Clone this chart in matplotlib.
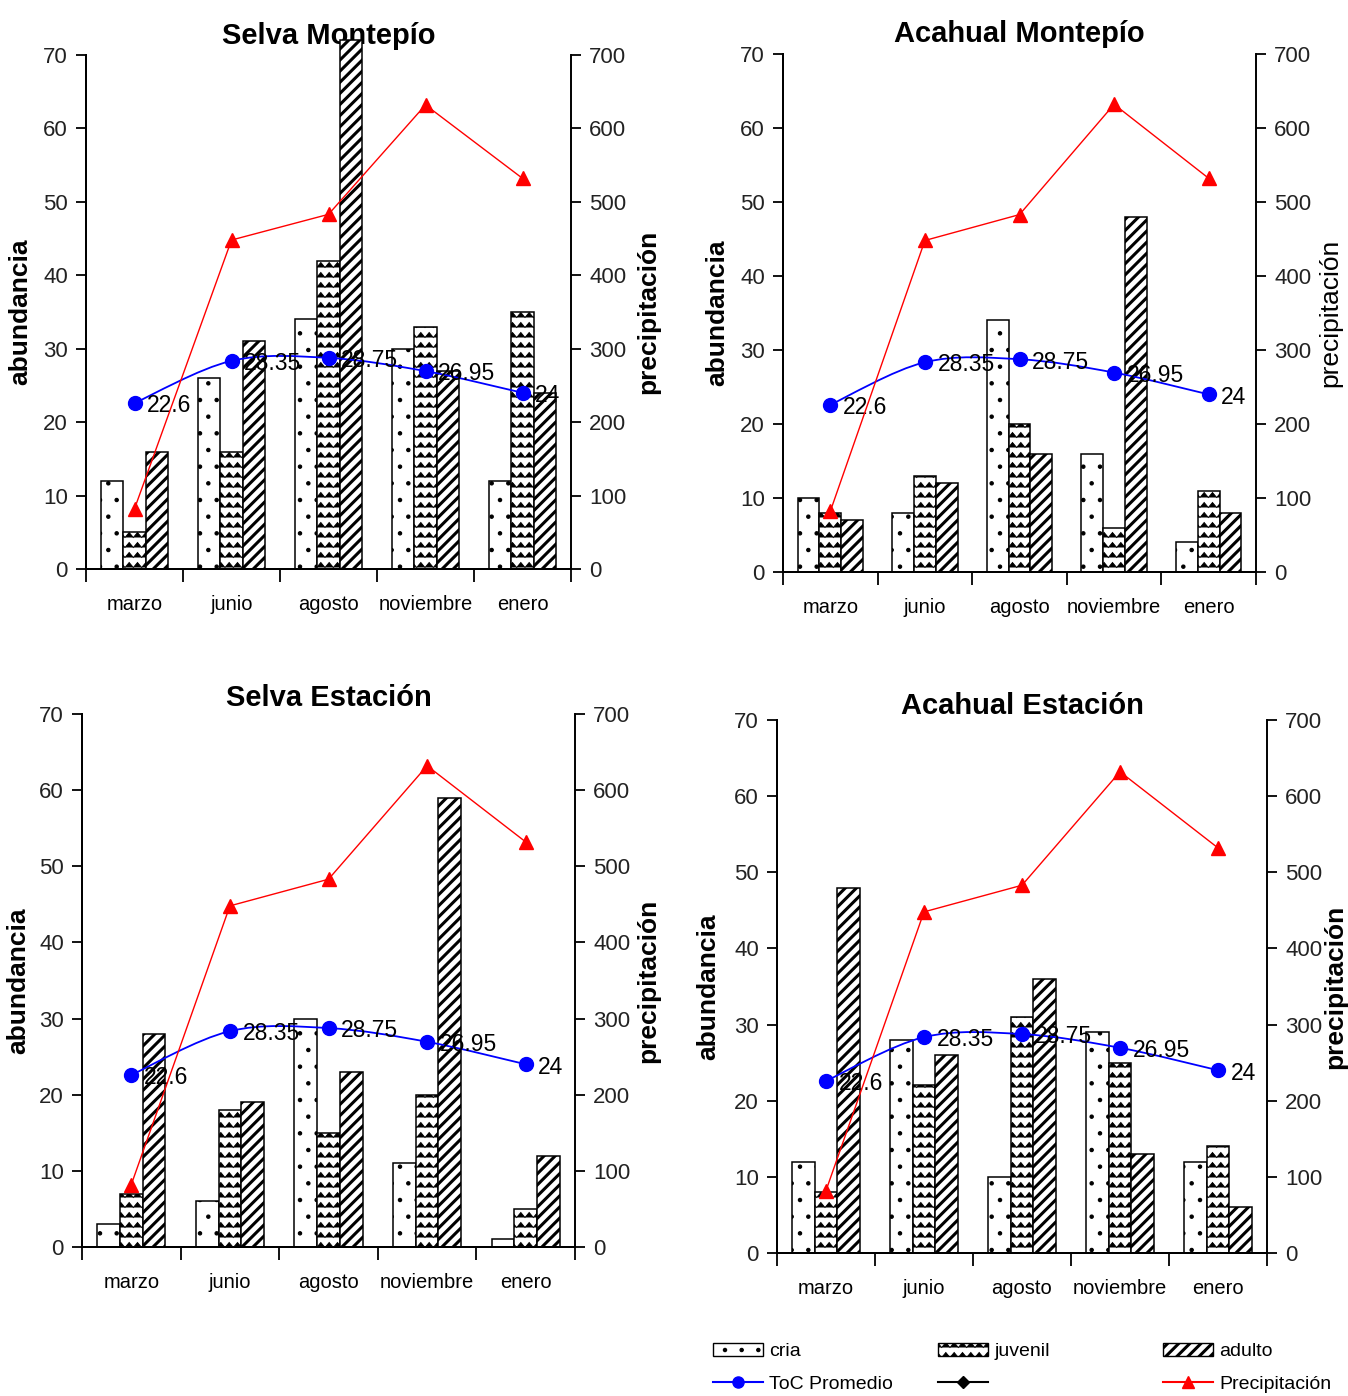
import matplotlib
matplotlib.use('Agg')
import matplotlib.pyplot as plt
import matplotlib.hatch as mhatch
from matplotlib.path import Path
from matplotlib.patches import PathPatch, Patch
from matplotlib.lines import Line2D
import numpy as np

plt.rcParams['font.family'] = ['Liberation Sans', 'DejaVu Sans']

meses = ['marzo', 'junio', 'agosto', 'noviembre', 'enero']
temperatura = [22.6, 28.35, 28.75, 26.95, 24]
precipitacion = [82, 448, 483, 632, 532]

selva_montepio_cria = [12, 26, 34, 30, 12]
selva_montepio_juvenil = [5, 16, 42, 33, 35]
selva_montepio_adulto = [16, 31, 72, 27, 24]

acahual_montepio_cria = [10, 8, 34, 16, 4]
acahual_montepio_juvenil = [8, 13, 20, 6, 11]
acahual_montepio_adulto = [7, 12, 16, 48, 8]

selva_estacion_cria = [3, 6, 30, 11, 1]
selva_estacion_juvenil = [7, 18, 15, 20, 5]
selva_estacion_adulto = [28, 19, 23, 59, 12]

acahual_estacion_cria = [12, 28, 10, 29, 12]
acahual_estacion_juvenil = [8, 22, 31, 25, 14]
acahual_estacion_adulto = [48, 26, 36, 13, 6]


# zigzag hatch for the "juvenil" bars, hooked on the '*' character
class ZigZagHatch(mhatch.HatchPatternBase):
    def __init__(self, hatch, density):
        n = hatch.count('*')
        self.rows = n * (density * 2 - 2)
        self.teeth = n * density * 2
        self.num_vertices = self.rows * (2 * self.teeth + 1) if n else 0

    def set_vertices_and_codes(self, vertices, codes):
        amp = 0.5 / self.rows
        xs = np.linspace(0, 1, 2 * self.teeth + 1)
        impar = np.arange(len(xs)) % 2 == 1
        k = 0
        for r in range(self.rows):
            y0 = (r + 0.25) / self.rows
            vertices[k:k + len(xs), 0] = xs
            vertices[k:k + len(xs), 1] = np.where(impar, y0 + amp, y0)
            codes[k] = Path.MOVETO
            codes[k + 1:k + len(xs)] = Path.LINETO
            k += len(xs)


mhatch._hatch_types = [t for t in mhatch._hatch_types if t is not mhatch.Stars] + [ZigZagHatch]

estilos = [
    dict(hatch='.', hlw=0.8),
    dict(hatch='*', hlw=0.65),
    dict(hatch='///', hlw=2.2),
]


def curva_suave(xs, ys):
    pts = np.column_stack([xs, ys]).astype(float)
    verts = [pts[0]]
    codes = [Path.MOVETO]
    n = len(pts)
    for i in range(n - 1):
        p0 = pts[i - 1] if i > 0 else pts[i]
        p1 = pts[i]
        p2 = pts[i + 1]
        p3 = pts[i + 2] if i + 2 < n else pts[i + 1]
        verts += [p1 + (p2 - p0) / 6, p2 - (p3 - p1) / 6, p2]
        codes += [Path.CURVE4] * 3
    return Path(verts, codes)


def grafica(pos, titulo, cria, juvenil, adulto, title_pad, ylab_off, y2lab_off, y2bold=True):
    ax = fig.add_axes(pos)
    ax2 = ax.twinx()
    x = np.arange(len(meses))
    w = 0.23
    for serie, off, est in zip([cria, juvenil, adulto], [-w, 0, w], estilos):
        bars = ax.bar(x + off, serie, w, color='white', edgecolor='black',
                      linewidth=1.1, hatch=est['hatch'], zorder=2, clip_on=False)
        for b in bars:
            if hasattr(b, 'set_hatch_linewidth'):
                b.set_hatch_linewidth(est['hlw'])

    # temperature: smoothed blue line with labels
    ax.add_patch(PathPatch(curva_suave(x, temperatura), fill=False,
                           edgecolor='blue', linewidth=1.3, zorder=5))
    ax.plot(x, temperatura, 'o', color='blue', markersize=10, zorder=6)
    for xi, t in zip(x, temperatura):
        ax.annotate(f'{t:g}', (xi, t), xytext=(9, -2), textcoords='offset points',
                    va='center', ha='left', fontsize=16.5, zorder=7)

    ax2.plot(x, precipitacion, '-^', color='red', linewidth=1.0, markersize=10)

    ax.set_xlim(-0.5, len(meses) - 0.5)
    ax.set_ylim(0, 70)
    ax2.set_ylim(0, 700)
    ax.set_yticks(range(0, 71, 10))
    ax2.set_yticks(range(0, 701, 100))
    ax.set_xticks(x)
    ax.set_xticklabels(meses, fontsize=14.5)
    ax.set_xticks(np.arange(-0.5, len(meses), 1), minor=True)
    ax.tick_params(axis='x', which='major', length=0, pad=19)
    ax.tick_params(axis='x', which='minor', length=9, width=1.3, direction='out')
    ax.tick_params(axis='y', labelsize=16, length=7, width=1.3, pad=6, labelcolor='#222222')
    ax2.tick_params(axis='y', labelsize=16, length=7, width=1.3, pad=6, labelcolor='#222222')

    for a in (ax, ax2):
        a.spines['top'].set_visible(False)
        for s in ('left', 'right', 'bottom'):
            a.spines[s].set_linewidth(1.4)
    ax.spines['right'].set_visible(False)

    t = ax.set_title(titulo, fontsize=21, fontweight='bold', pad=title_pad)
    t.set_zorder(0.5)

    ax.set_ylabel('abundancia', fontsize=19, fontweight='bold')
    ax2.set_ylabel('precipitación', fontsize=19,
                   fontweight='bold' if y2bold else 'normal', rotation=90)
    for lab in (ax.yaxis.label, ax2.yaxis.label):
        lab.set_va('center')
        lab.set_ha('center')
        lab.set_rotation_mode('anchor')
    wpx = pos[2] * W
    ax.yaxis.set_label_coords(ylab_off / wpx, 0.5)
    ax2.yaxis.set_label_coords(1 + y2lab_off / wpx, 0.5)
    return ax


W, H = 1348, 1396
fig = plt.figure(figsize=(W / 100, H / 100), dpi=100)


def caja(l, r, t, b):
    return [l / W, 1 - b / H, (r - l) / W, (b - t) / H]


grafica(caja(86, 571, 55, 569), 'Selva Montepío', selva_montepio_cria,
        selva_montepio_juvenil, selva_montepio_adulto, 8, -66, 77)
grafica(caja(783, 1256, 54, 572), 'Acahual Montepío', acahual_montepio_cria,
        acahual_montepio_juvenil, acahual_montepio_adulto, 9, -66, 74, y2bold=False)
grafica(caja(82, 575, 714, 1247), 'Selva Estación', selva_estacion_cria,
        selva_estacion_juvenil, selva_estacion_adulto, 6, -64, 73)
grafica(caja(777, 1267, 720, 1253), 'Acahual Estación', acahual_estacion_cria,
        acahual_estacion_juvenil, acahual_estacion_adulto, 4, -69, 68)

# legend laid out as three columns under the last chart
columnas = [
    [(Patch(facecolor='white', edgecolor='black', hatch='.'), 'cria'),
     (Line2D([], [], color='blue', marker='o', markersize=8), 'ToC Promedio')],
    [(Patch(facecolor='white', edgecolor='black', hatch='*'), 'juvenil'),
     (Line2D([], [], color='black', marker='D', markersize=6), ' ')],
    [(Patch(facecolor='white', edgecolor='black', hatch='///'), 'adulto'),
     (Line2D([], [], color='red', marker='^', markersize=9), 'Precipitación')],
]
for xpx, col, est in zip([703, 928, 1153], columnas, estilos):
    handles, labels = zip(*col)
    with plt.rc_context({'hatch.linewidth': est['hlw']}):
        fig.legend(handles, labels, loc='upper left', bbox_to_anchor=(xpx / W, 1 - 1333 / H),
                   frameon=False, fontsize=14, handlelength=2.6, handletextpad=0.3,
                   labelspacing=0.75, borderpad=0)

fig.savefig('out.png', dpi=100)
